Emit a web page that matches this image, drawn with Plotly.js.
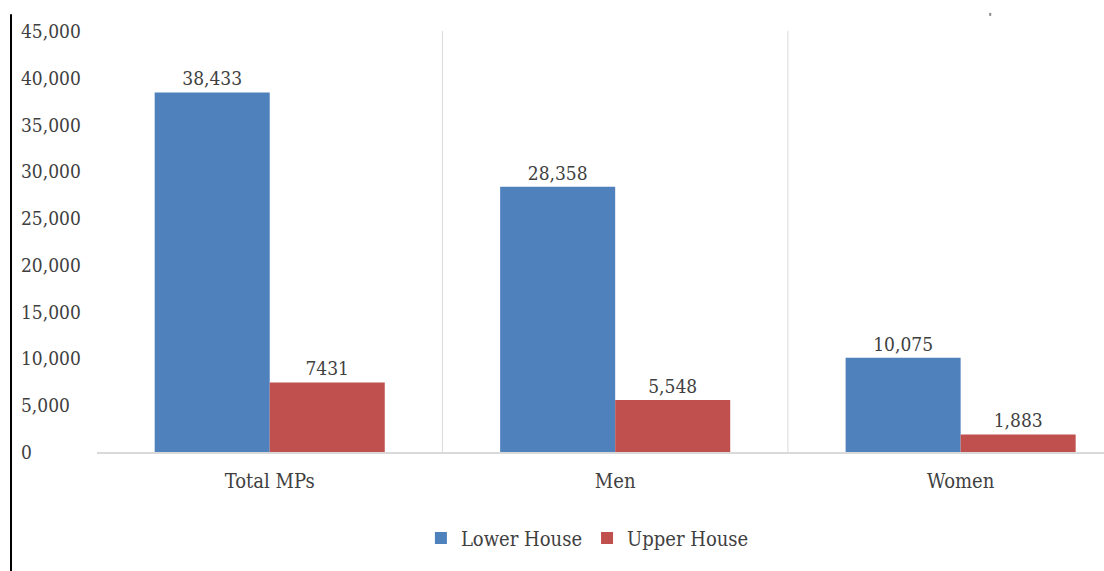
<!DOCTYPE html>
<html>
<head>
<meta charset="utf-8">
<script src="https://cdn.plot.ly/plotly-3.0.1.min.js"></script>
<style>html,body{margin:0;padding:0;background:#fff;}#chart{width:1104px;height:571px;}</style>
</head>
<body>
<div id="chart"></div>
<script>
var categories = ["Total MPs", "Men", "Women"];
var lowerHouse = [38433, 28358, 10075];
var upperHouse = [7431, 5548, 1883];
var lowerLabels = ["38,433", "28,358", "10,075"];
var upperLabels = ["7431", "5,548", "1,883"];
var yTickVals = [0, 5000, 10000, 15000, 20000, 25000, 30000, 35000, 40000, 45000];
var yTickText = ["0", "5,000", "10,000", "15,000", "20,000", "25,000", "30,000", "35,000", "40,000", "45,000"];

var FONT = '"DejaVu Serif Condensed", "DejaVu Serif", serif';
var TXT = '#404040';

var traces = [
  {type: 'bar', name: 'Lower House', x: categories, y: lowerHouse, text: lowerLabels,
   textposition: 'outside', textfont: {family: FONT, size: 19, color: TXT},
   marker: {color: '#4F81BD'}, cliponaxis: false, hoverinfo: 'x+y'},
  {type: 'bar', name: 'Upper House', x: categories, y: upperHouse, text: upperLabels,
   textposition: 'outside', textfont: {family: FONT, size: 19, color: TXT},
   marker: {color: '#C0504D'}, cliponaxis: false, hoverinfo: 'x+y'}
];

var annotations = yTickVals.map(function (v, i) {
  return {xref: 'paper', yref: 'y', x: -0.077, y: v, text: yTickText[i], showarrow: false,
    xanchor: 'left', yanchor: 'middle', font: {family: FONT, size: 19, color: TXT}};
});

var shapes = [
  {type: 'line', xref: 'x', yref: 'y', x0: 0.5, x1: 0.5, y0: 0, y1: 45000, line: {color: '#d9d9d9', width: 1}},
  {type: 'line', xref: 'x', yref: 'y', x0: 1.5, x1: 1.5, y0: 0, y1: 45000, line: {color: '#d9d9d9', width: 1}},
  {type: 'line', xref: 'paper', yref: 'paper', x0: -0.0854, x1: -0.0854, y0: 1.04, y1: -0.3, line: {color: '#000', width: 2}},
  {type: 'line', xref: 'paper', yref: 'paper', x0: 0.887, x1: 0.887, y0: 1.036, y1: 1.043, line: {color: '#888', width: 2}}
];

var layout = {
  width: 1104, height: 571,
  margin: {l: 97, r: 0, t: 31, b: 119},
  paper_bgcolor: '#fff', plot_bgcolor: '#fff',
  font: {family: FONT, size: 19, color: TXT},
  barmode: 'group', bargap: 0.334, bargroupgap: 0,
  xaxis: {type: 'category', range: [-0.5, 2.415], showgrid: false, zeroline: false,
    showline: true, linecolor: '#d9d9d9', linewidth: 2, ticks: '', ticklabelstandoff: 10,
    tickfont: {family: FONT, size: 20, color: TXT}, fixedrange: true},
  yaxis: {range: [0, 45000], showgrid: false, zeroline: false, showticklabels: false,
    showline: false, ticks: '', fixedrange: true},
  showlegend: true,
  legend: {orientation: 'h', x: 0.487, xanchor: 'center', y: -0.204, yanchor: 'middle',
    font: {family: FONT, size: 20, color: TXT}, itemwidth: 30, traceorder: 'normal'},
  annotations: annotations,
  shapes: shapes
};

Plotly.newPlot('chart', traces, layout, {displayModeBar: false, staticPlot: true});
</script>
</body>
</html>
